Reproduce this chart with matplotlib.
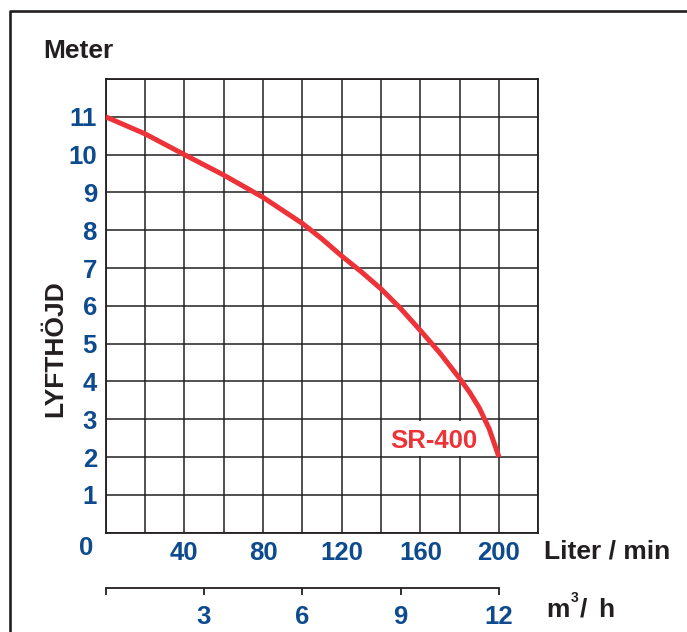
import matplotlib
matplotlib.use("Agg")
import matplotlib.pyplot as plt
from matplotlib.lines import Line2D
from matplotlib.patches import Rectangle

# ---- data ----
flow_lpm = [0, 20, 40, 60, 80, 100, 110, 120, 130, 140, 150, 160, 170, 180, 185, 190, 195, 200]
head_m = [11, 10.55, 10, 9.46, 8.87, 8.18, 7.77, 7.32, 6.9, 6.45, 5.93, 5.35, 4.75, 4.08, 3.72, 3.3, 2.75, 2.0]
x_ticks = [0, 20, 40, 60, 80, 100, 120, 140, 160, 180, 200, 220]
x_labels = ["", "", "40", "", "80", "", "120", "", "160", "", "200", ""]
y_ticks = list(range(0, 13))
y_labels = [""] + [str(v) for v in range(1, 12)] + [""]
m3h_ticks = [0, 3, 6, 9, 12]
m3h_labels = ["", "3", "6", "9", "12"]
series_name = "SR-400"

W, H = 687, 632
BLUE = "#0d4a8e"
DARK = "#231f20"
RED = "#ee3338"
FONT = "Liberation Sans"
plt.rcParams["font.family"] = [FONT, "DejaVu Sans"]
plt.rcParams["font.weight"] = "bold"

fig = plt.figure(figsize=(W / 100, H / 100), dpi=100)

def fx(px):
    return px / W

def fy(py):
    return 1 - py / H

L, R, T, B = 105.7, 538.3, 79.0, 532.7
ax = fig.add_axes([fx(L), fy(B), fx(R) - fx(L), fy(T) - fy(B)])
ax.set_xlim(0, 220)
ax.set_ylim(0, 12)
ax.set_xticks(x_ticks)
ax.set_xticklabels(x_labels)
ax.set_yticks(y_ticks)
ax.set_yticklabels(y_labels)
ax.tick_params(length=0, labelsize=18.5, labelcolor=BLUE, pad=6.3)
for lab in ax.get_xticklabels() + ax.get_yticklabels():
    lab.set_fontweight("bold")
ax.set_axisbelow(True)
ax.grid(True, color=DARK, linewidth=1.1)
for s in ax.spines.values():
    s.set_color(DARK)
    s.set_linewidth(1.3)

ax.plot(flow_lpm, head_m, color=RED, linewidth=3.6, solid_capstyle="butt",
        solid_joinstyle="round", zorder=3)

# label box hiding grid lines
ax.add_patch(Rectangle((141, 2.035), 56, 0.93, facecolor="white",
                       edgecolor="none", zorder=1))
fig.text(fx(390.7), fy(448.3), series_name, color=RED, fontsize=18.5,
         fontweight="bold", ha="left", va="baseline", zorder=5)

# secondary m3/h axis
ax2 = fig.add_axes([fx(L), fy(588), fx(R) - fx(L), 0.01])
ax2.set_xlim(0, 13.2)
ax2.patch.set_visible(False)
for k in ["top", "left", "right"]:
    ax2.spines[k].set_visible(False)
ax2.spines["bottom"].set_bounds(0, 12)
ax2.spines["bottom"].set_color(DARK)
ax2.spines["bottom"].set_linewidth(1.3)
ax2.set_yticks([])
ax2.set_xticks(m3h_ticks)
ax2.set_xticklabels(m3h_labels)
ax2.tick_params(axis="x", direction="out", length=5, width=1.3, color=DARK,
                labelsize=18.5, labelcolor=BLUE, pad=7)
for lab in ax2.get_xticklabels():
    lab.set_fontweight("bold")

# texts
fig.text(fx(85.7), fy(555), "0", color=BLUE, fontsize=18.5, fontweight="bold",
         ha="center", va="baseline")
fig.text(fx(43.3), fy(58.3), "Meter", color=DARK, fontsize=19,
         fontweight="bold", ha="left", va="baseline")
fig.text(fx(544), fy(558.3), "Liter / min", color=DARK, fontsize=19,
         fontweight="bold", ha="left", va="baseline")
fig.text(fx(62.7), fy(349), "LYFTHÖJD", color=DARK, fontsize=19,
         fontweight="bold", rotation=90, rotation_mode="anchor",
         ha="center", va="baseline")
fig.text(fx(546.7), fy(616.7), "m", color=DARK, fontsize=19,
         fontweight="bold", ha="left", va="baseline")
fig.text(fx(571), fy(601.7), "3", color=DARK, fontsize=10,
         fontweight="bold", ha="left", va="baseline")
fig.text(fx(580), fy(616.7), "/", color=DARK, fontsize=19,
         fontweight="bold", ha="left", va="baseline")
fig.text(fx(598), fy(616.7), "h", color=DARK, fontsize=19,
         fontweight="bold", ha="left", va="baseline")

# frame (left and top only)
fig.add_artist(Line2D([fx(10), fx(10), 1], [0, fy(10.5), fy(10.5)],
                      transform=fig.transFigure, color=DARK, linewidth=1.9))

fig.savefig("out.png", dpi=100)
